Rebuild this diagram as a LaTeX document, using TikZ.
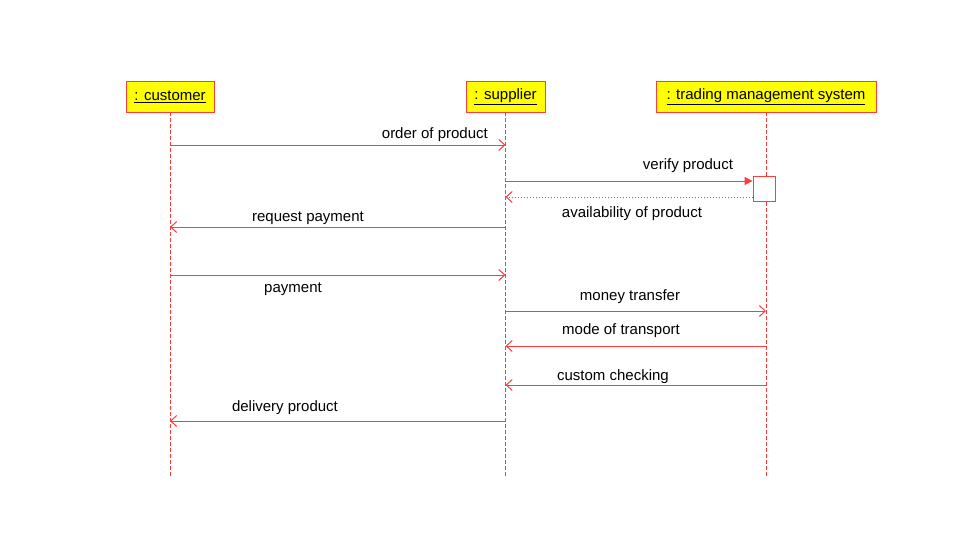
\documentclass[tikz,border=0pt]{standalone}
\usepackage{fontspec}
\setmainfont{Liberation Sans}
\usetikzlibrary{arrows.meta,positioning}
\definecolor{umlred}{RGB}{255,60,60}
\definecolor{umlyellow}{RGB}{255,255,0}
\tikzset{
  head/.style={draw=umlred, fill=umlyellow, line width=0.9pt, minimum height=31pt, inner xsep=4pt, font=\fontsize{15}{17}\selectfont},
  lifeline/.style={draw=umlred, line width=0.9pt, dash pattern=on 4pt off 2pt},
  msg/.style={draw=umlred, line width=1pt, -{Straight Barb[length=6pt,width=11pt]}},
  call/.style={draw=umlred, line width=1pt, -{Triangle[length=8pt,width=8pt]}},
  reply/.style={draw=umlred, line width=1pt, dotted, -{Straight Barb[length=6pt,width=11pt]}},
  lbl/.style={font=\fontsize{15}{17}\selectfont, inner sep=1pt},
}
\begin{document}
\begin{tikzpicture}[x=1pt,y=-1pt]
\useasboundingbox (0,0) rectangle (980,535);
	\node [head, minimum width=88pt] (cust) at (170,96.5) {\raisebox{-1.5pt}{\underline{: customer}}};
	\node [head, minimum width=79pt] (supp) at (505.5,96.5) {\raisebox{-1.5pt}{\underline{: supplier}}};
	\node [head, minimum width=220pt] (tms) at (766,96.5) {\raisebox{-1.5pt}{\underline{: trading management system}}};
    \coordinate (custend) at (cust.south |- 0,477);
    \coordinate (suppend) at (supp.south |- 0,477);
    \coordinate (tmsend) at (tms.south |- 0,477);
    \draw [lifeline] (cust) -- (custend);
    \draw [lifeline] (supp) -- (suppend);
    \draw [lifeline] (tms) -- (tmsend);
    \node [draw=umlred, fill=white, line width=0.9pt, minimum width=22pt, minimum height=25pt, inner sep=0pt] (act) at (764,188.5) {};

    \draw [msg] (cust.south |- 0,145) -- (supp.south |- 0,145);
    \node [lbl, anchor=base east] (m1) at (489,138) {order of product};
    \draw [call] (supp.south |- 0,181) -- (act.west |- 0,181);
    \node [lbl] (m2) at (688,166) {verify product};
    \draw [reply] (act.west |- 0,197) -- (supp.south |- 0,197);
    \node [lbl] (m3) at (632,214) {availability of product};
    \draw [msg] (supp.south |- 0,227) -- (cust.south |- 0,227);
    \node [lbl] (m4) at (308,218) {request payment};
    \draw [msg] (cust.south |- 0,275) -- (supp.south |- 0,275);
    \node [lbl] (m5) at (293,289) {payment};
    \draw [msg] (supp.south |- 0,311) -- (tms.south |- 0,311);
    \node [lbl] (m6) at (630,297) {money transfer};
    \draw [msg] (tms.south |- 0,346) -- (supp.south |- 0,346);
    \node [lbl] (m7) at (621,331) {mode of transport};
    \draw [msg] (tms.south |- 0,385) -- (supp.south |- 0,385);
    \node [lbl] (m8) at (613,377) {custom checking};
    \draw [msg] (supp.south |- 0,421) -- (cust.south |- 0,421);
    \node [lbl] (m9) at (285,408) {delivery product};
\end{tikzpicture}
\end{document}
